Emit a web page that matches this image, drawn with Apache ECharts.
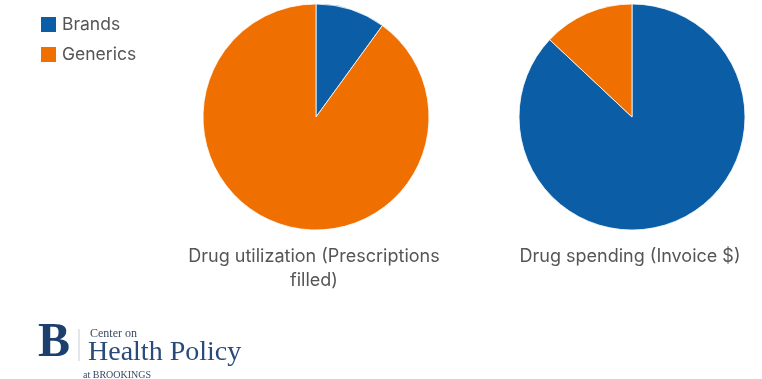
<!DOCTYPE html>
<html>
<head>
<meta charset="utf-8">
<script src="https://cdn.jsdelivr.net/npm/echarts@6/dist/echarts.min.js"></script>
<style>
  html, body { margin: 0; padding: 0; background: #ffffff; }
  #chart { width: 762px; height: 379px; }
</style>
</head>
<body>
<div id="chart"></div>
<script>
// Share of brand vs. generic drugs
const categories = ['Brands', 'Generics'];
const utilization = [10, 90];   // prescriptions filled, %
const spending = [87, 13];      // invoice dollars, %
const pieTitles = ['Drug utilization (Prescriptions\nfilled)', 'Drug spending (Invoice $)'];
const colors = ['#0b5ea6', '#ef6f00'];

const chart = echarts.init(document.getElementById('chart'));

function pieSeries(values, cx) {
  return {
    type: 'pie',
    center: [cx, 117],
    radius: [0, 113],
    startAngle: 90,
    clockwise: true,
    label: { show: false },
    labelLine: { show: false },
    emphasis: { disabled: true },
    itemStyle: { borderColor: '#ffffff', borderWidth: 0.8 },
    data: categories.map((c, i) => ({ name: c, value: values[i] }))
  };
}

const font = 'Inter, "Open Sans", sans-serif';
const serif = '"Liberation Serif", "DejaVu Serif", serif';

chart.setOption({
  animation: false,
  color: colors,
  legend: {
    orient: 'vertical',
    left: 34,
    top: 10,
    itemWidth: 17,
    itemHeight: 17,
    itemGap: 11,
    icon: 'rect',
    selectedMode: false,
    textStyle: { fontFamily: font, fontSize: 17.5, color: '#555555' },
    data: categories
  },
  title: [
    {
      text: pieTitles[0], left: 309, top: 240, textAlign: 'center',
      textStyle: { fontFamily: font, fontSize: 18, fontWeight: 'normal', color: '#555555', lineHeight: 24, align: 'center' }
    },
    {
      text: pieTitles[1], left: 625, top: 240, textAlign: 'center',
      textStyle: { fontFamily: font, fontSize: 18, fontWeight: 'normal', color: '#555555', lineHeight: 24 }
    }
  ],
  series: [pieSeries(utilization, 316), pieSeries(spending, 632)],
  graphic: [
    // Center on Health Policy logo
    { type: 'text', left: 38, top: 320, style: { text: 'B', fontFamily: serif, fontSize: 48, fontWeight: 'bold', fill: '#1d3f6e' } },
    { type: 'line', shape: { x1: 79, y1: 329, x2: 79, y2: 361 }, style: { stroke: '#c9ced6', lineWidth: 1 } },
    { type: 'text', left: 90, top: 328, style: { text: 'Center on', fontFamily: serif, fontSize: 12, fill: '#3a4a66' } },
    { type: 'text', left: 88, top: 339, style: { text: 'Health Policy', fontFamily: serif, fontSize: 28, fill: '#2a4a7a' } },
    { type: 'text', left: 83, top: 370, style: { text: 'at BROOKINGS', fontFamily: serif, fontSize: 10, fill: '#3a4a66' } }
  ]
});
</script>
</body>
</html>
